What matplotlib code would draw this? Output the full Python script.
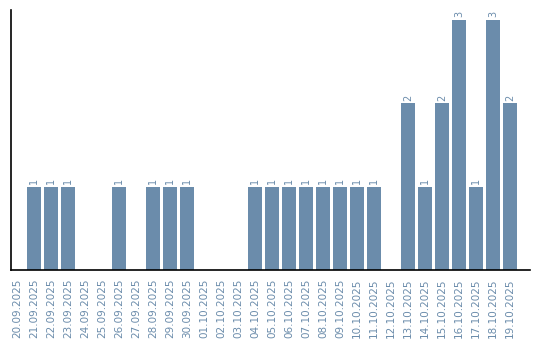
import matplotlib
matplotlib.use("Agg")
import matplotlib.pyplot as plt
import numpy as np

dates = ["20.09.2025", "21.09.2025", "22.09.2025", "23.09.2025", "24.09.2025",
         "25.09.2025", "26.09.2025", "27.09.2025", "28.09.2025", "29.09.2025",
         "30.09.2025", "01.10.2025", "02.10.2025", "03.10.2025", "04.10.2025",
         "05.10.2025", "06.10.2025", "07.10.2025", "08.10.2025", "09.10.2025",
         "10.10.2025", "11.10.2025", "12.10.2025", "13.10.2025", "14.10.2025",
         "15.10.2025", "16.10.2025", "17.10.2025", "18.10.2025", "19.10.2025"]
counts = [0, 1, 1, 1, 0, 0, 1, 0, 1, 1, 1, 0, 0, 0, 1,
          1, 1, 1, 1, 1, 1, 1, 0, 2, 1, 2, 3, 1, 3, 2]

bar_color = "#6b8cab"
text_color = "#6b8cab"

fig = plt.figure(figsize=(5.4, 3.4), dpi=100)
ax = fig.add_axes([0.0204, 0.206, 0.9611, 0.765])

x = np.arange(len(dates))
ax.bar(x, counts, width=0.82, color=bar_color)

# value labels above non-empty bars
for xi, c in zip(x, counts):
    if c > 0:
        ax.text(xi, c + 0.03, str(c), rotation=90, ha="center", va="bottom",
                fontsize=7, color=text_color)

ax.set_xlim(-0.35, 30.18)
ax.set_ylim(0, 3.12)
ax.set_xticks(x)
ax.set_xticklabels(dates, rotation=90, fontsize=7.5, color=text_color)
ax.tick_params(axis="x", length=0, pad=6)
ax.set_yticks([])
ax.spines["top"].set_visible(False)
ax.spines["right"].set_visible(False)
ax.spines["left"].set_linewidth(1.2)
ax.spines["bottom"].set_linewidth(1.2)

fig.savefig("out.png", dpi=100)
